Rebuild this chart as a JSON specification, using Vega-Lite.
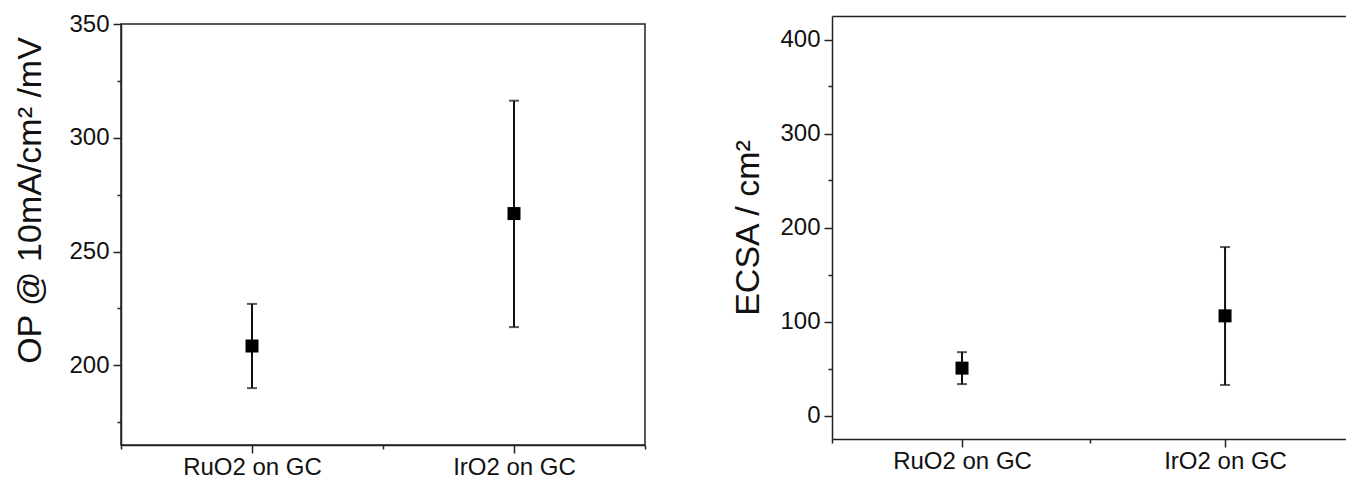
{
  "$schema": "https://vega.github.io/schema/vega-lite/v6.json",
  "padding": {"left": 13, "top": 11, "right": 0, "bottom": 0},
  "autosize": {"type": "pad"},
  "background": "white",
  "datasets": {
    "op": [
      {"catalyst": "RuO2 on GC", "value": 208.5, "lo": 190.0, "hi": 227.0},
      {"catalyst": "IrO2 on GC", "value": 266.7, "lo": 216.8, "hi": 316.3}
    ],
    "ecsa": [
      {"catalyst": "RuO2 on GC", "value": 50.4, "lo": 33.4, "hi": 67.4},
      {"catalyst": "IrO2 on GC", "value": 106.0, "lo": 32.5, "hi": 179.2}
    ]
  },
  "spacing": 84,
  "hconcat": [
    {
      "spacing": -6,
      "vconcat": [
        {
          "width": 524,
          "height": 1,
          "data": {"values": [{"note": "spacer"}]},
          "mark": {"type": "point", "opacity": 0, "size": 0},
          "encoding": {}
        },
        {
          "width": 524,
          "height": 421,
          "view": {"stroke": "#222", "strokeWidth": 1.5},
          "data": {"name": "op"},
          "resolve": {"scale": {"x": "independent"}, "axis": {"x": "independent", "y": "independent"}},
          "layer": [
            {
              "mark": {"type": "rule", "color": "#111", "strokeWidth": 2},
              "encoding": {
                "x": {"field": "catalyst", "type": "nominal", "sort": null, "scale": {"type": "point", "padding": 0.5}, "axis": {"title": null, "labelAngle": 0, "tickSize": 8, "labelPadding": 2, "orient": "bottom"}},
                "y": {"field": "lo", "type": "quantitative", "scale": {"domain": [165, 350], "nice": false, "zero": false}, "axis": {"title": "OP @ 10mA/cm² /mV", "values": [200, 250, 300, 350], "tickSize": 8, "labelPadding": 4, "titlePadding": 21, "titleY": 176, "orient": "left"}},
                "y2": {"field": "hi"}
              }
            },
            {
              "mark": {"type": "tick", "orient": "horizontal", "color": "#111", "size": 10, "thickness": 2},
              "encoding": {
                "x": {"field": "catalyst", "type": "nominal", "sort": null, "scale": {"type": "point", "padding": 0.5}, "axis": null},
                "y": {"field": "lo", "type": "quantitative", "scale": {"domain": [165, 350], "nice": false, "zero": false}, "axis": {"values": [175, 225, 275, 325], "labels": false, "tickSize": 4, "domain": false, "title": null, "orient": "left"}}
              }
            },
            {
              "mark": {"type": "tick", "orient": "horizontal", "color": "#111", "size": 10, "thickness": 2},
              "encoding": {
                "x": {"field": "catalyst", "type": "nominal", "sort": null, "scale": {"type": "point", "padding": 0.5}, "axis": null},
                "y": {"field": "hi", "type": "quantitative", "scale": {"domain": [165, 350], "nice": false, "zero": false}, "axis": null}
              }
            },
            {
              "mark": {"type": "point", "shape": "square", "filled": true, "size": 169, "color": "#000", "opacity": 1},
              "encoding": {
                "x": {"field": "catalyst", "type": "nominal", "sort": null, "scale": {"type": "point", "padding": 0.5}, "axis": null},
                "y": {"field": "value", "type": "quantitative", "scale": {"domain": [165, 350], "nice": false, "zero": false}, "axis": null}
              }
            },
            {
              "mark": {"type": "tick", "opacity": 0},
              "encoding": {
                "x": {"field": "catalyst", "type": "nominal", "sort": null, "scale": {"type": "band", "paddingInner": 0, "paddingOuter": 0}, "axis": {"tickBand": "extent", "labels": false, "tickSize": 4, "domain": false, "title": null, "orient": "bottom"}},
                "y": {"field": "value", "type": "quantitative", "scale": {"domain": [165, 350], "nice": false, "zero": false}, "axis": null}
              }
            }
          ]
        }
      ]
    },
    {
      "width": 515,
      "height": 423,
      "data": {"name": "ecsa"},
      "resolve": {"scale": {"x": "independent"}, "axis": {"x": "independent", "y": "independent"}},
      "layer": [
        {
          "mark": {"type": "rule", "color": "#111", "strokeWidth": 2},
          "encoding": {
            "x": {"field": "catalyst", "type": "nominal", "sort": null, "scale": {"type": "point", "padding": 0.479, "align": 0.516}, "axis": {"title": null, "labelAngle": 0, "tickSize": 8, "labelPadding": 2, "orient": "bottom"}},
            "y": {"field": "lo", "type": "quantitative", "scale": {"domain": [-25, 425], "nice": false, "zero": false}, "axis": {"title": "ECSA / cm²", "values": [0, 100, 200, 300, 400], "tickSize": 8, "labelPadding": 4, "titlePadding": 14, "orient": "left"}},
            "y2": {"field": "hi"}
          }
        },
        {
          "mark": {"type": "tick", "orient": "horizontal", "color": "#111", "size": 10, "thickness": 2},
          "encoding": {
            "x": {"field": "catalyst", "type": "nominal", "sort": null, "scale": {"type": "point", "padding": 0.479, "align": 0.516}, "axis": null},
            "y": {"field": "lo", "type": "quantitative", "scale": {"domain": [-25, 425], "nice": false, "zero": false}, "axis": {"values": [50, 150, 250, 350], "labels": false, "tickSize": 4, "domain": false, "title": null, "orient": "left"}}
          }
        },
        {
          "mark": {"type": "tick", "orient": "horizontal", "color": "#111", "size": 10, "thickness": 2},
          "encoding": {
            "x": {"field": "catalyst", "type": "nominal", "sort": null, "scale": {"type": "point", "padding": 0.479, "align": 0.516}, "axis": {"orient": "top", "domain": true, "ticks": false, "labels": false, "title": null}},
            "y": {"field": "hi", "type": "quantitative", "scale": {"domain": [-25, 425], "nice": false, "zero": false}, "axis": null}
          }
        },
        {
          "mark": {"type": "point", "shape": "square", "filled": true, "size": 169, "color": "#000", "opacity": 1},
          "encoding": {
            "x": {"field": "catalyst", "type": "nominal", "sort": null, "scale": {"type": "point", "padding": 0.479, "align": 0.516}, "axis": null},
            "y": {"field": "value", "type": "quantitative", "scale": {"domain": [-25, 425], "nice": false, "zero": false}, "axis": null}
          }
        },
        {
          "mark": {"type": "tick", "opacity": 0},
          "encoding": {
            "x": {"field": "catalyst", "type": "nominal", "sort": null, "scale": {"type": "band", "paddingInner": 0, "paddingOuter": 0}, "axis": {"tickBand": "extent", "labels": false, "tickSize": 4, "domain": false, "title": null, "orient": "bottom"}},
            "y": {"field": "value", "type": "quantitative", "scale": {"domain": [-25, 425], "nice": false, "zero": false}, "axis": null}
          }
        }
      ]
    }
  ],
  "config": {
    "font": "Liberation Sans",
    "view": {"stroke": null},
    "axis": {
      "domainColor": "#222",
      "domainWidth": 1.5,
      "tickColor": "#222",
      "tickWidth": 1.5,
      "labelColor": "#111",
      "labelFont": "Liberation Sans",
      "labelFontSize": 24,
      "titleFont": "Liberation Sans",
      "titleFontSize": 34,
      "titleFontWeight": "normal",
      "titleColor": "#111",
      "grid": false,
      "labelFlush": false,
      "labelOverlap": false
    },
    "title": {"font": "Liberation Sans"}
  }
}
